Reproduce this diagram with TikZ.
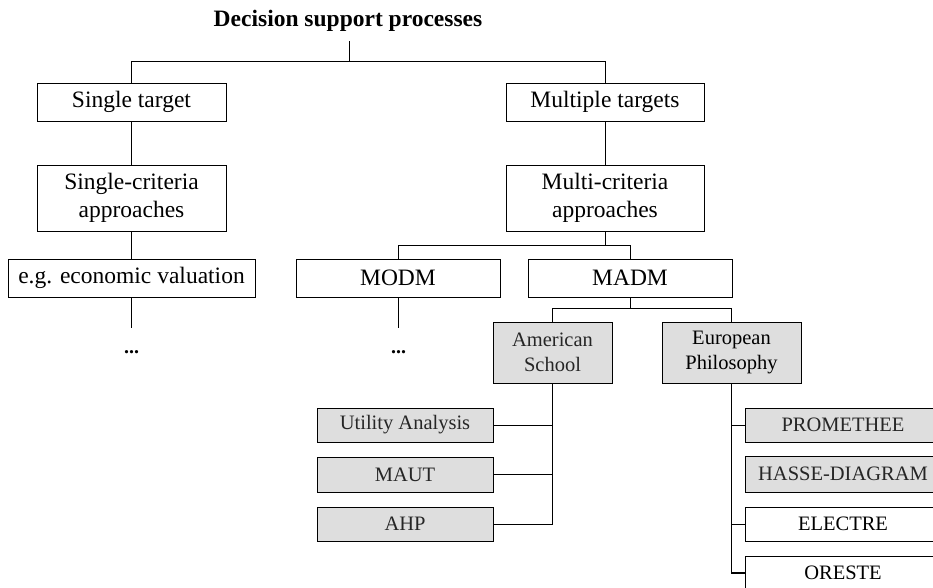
\documentclass[tikz,border=0pt]{standalone}
\usepackage{fontspec}
\setmainfont{Liberation Serif}
\definecolor{boxgray}{HTML}{DEDEDE}
\definecolor{txtgray}{HTML}{262626}
\tikzset{
  mainbox/.style={draw, line width=0.9pt, fill=white, inner sep=0pt, align=center,
    font=\fontsize{23.5}{28}\selectfont},
  graybox/.style={draw, line width=0.9pt, fill=boxgray, inner sep=0pt, align=center,
    text=txtgray, font=\fontsize{20.5}{25}\selectfont},
  whitebox/.style={draw, line width=0.9pt, fill=white, inner sep=0pt, align=center,
    font=\fontsize{20.5}{25}\selectfont},
  conn/.style={line width=0.8pt},
  trunk/.style={line width=1.6pt},
  dotsnode/.style={font=\fontsize{20}{24}\selectfont\bfseries, inner sep=0pt}
}
\begin{document}
\begin{tikzpicture}[x=1pt,y=-1pt]
\useasboundingbox (0,0) rectangle (933,587);
\clip (0,0) rectangle (933,587);
% title
\node[font=\fontsize{23.5}{28}\selectfont\bfseries, inner sep=0pt] (title) at (348,21) {Decision support processes};
\coordinate (t0) at (349,41);
\coordinate (j0) at (349,62);
% level 1
\node[mainbox, minimum width=189pt, minimum height=38pt] (st) at (131.5,102) {Single target};
\node[mainbox, minimum width=198pt, minimum height=38pt] (mt) at (605,102) {Multiple targets};
% level 2
\node[mainbox, minimum width=189pt, minimum height=66pt] (sc) at (131.5,198) {Single-criteria\\approaches};
\node[mainbox, minimum width=198pt, minimum height=66pt] (mc) at (605,198) {Multi-criteria\\approaches};
% level 3
\node[mainbox, minimum width=247pt, minimum height=38pt] (eg) at (131.5,278) {e.g. economic valuation};
\node[mainbox, minimum width=204pt, minimum height=38pt] (modm) at (398,278) {MODM};
\node[mainbox, minimum width=204pt, minimum height=38pt] (madm) at (630,278) {MADM};
\coordinate (j1) at (605,246);
\coordinate (j2) at (630,309);
% dots
\coordinate (d1) at (131.5,328);
\coordinate (d2) at (398,328);
\node[dotsnode] (dots1) at (131.5,352) {...};
\node[dotsnode] (dots2) at (398.5,352) {...};
% schools
\node[graybox, minimum width=119pt, minimum height=61pt] (am) at (552.5,352.5) {American\\School};
\node[graybox, text=black, minimum width=139pt, minimum height=61pt] (eu) at (731.5,352.5) {European\\Philosophy};
% american methods
\node[graybox, minimum width=176pt, minimum height=34pt] (ua) at (405,425) {Utility Analysis};
\node[graybox, minimum width=176pt, minimum height=35pt] (maut) at (405,474.5) {MAUT};
\node[graybox, minimum width=176pt, minimum height=34pt] (ahp) at (405,524) {AHP};
% european methods
\node[graybox, minimum width=196pt, minimum height=34pt] (prom) at (843,425) {PROMETHEE};
\node[graybox, minimum width=196pt, minimum height=36pt] (hasse) at (843,474) {HASSE-DIAGRAM};
\node[whitebox, minimum width=196pt, minimum height=34pt] (elec) at (843,524) {ELECTRE};
\node[whitebox, minimum width=196pt, minimum height=34pt] (ores) at (843,573) {ORESTE};
% connectors
\draw[conn] (t0) -- (j0);
\draw[conn] (st.north) -- ++(0,-21) -| (mt.north);
\draw[conn] (st.south) -- (sc.north);
\draw[conn] (mt.south) -- (mc.north);
\draw[conn] (sc.south) -- (eg.north);
\draw[conn] (mc.south) -- (j1);
\draw[conn] (modm.north) -- ++(0,-13) -| (madm.north);
\draw[conn] (eg.south) -- (d1);
\draw[conn] (modm.south) -- (d2);
\draw[conn] (madm.south) -- (j2);
\draw[conn] (am.north) -- ++(0,-13) -| (eu.north);
\draw[conn] (am.south) |- (ahp.east);
\draw[conn] (ua.east) -- (ua.east -| am.south);
\draw[conn] (maut.east) -- (maut.east -| am.south);
\draw[trunk] (eu.south) |- (ores.west);
\draw[conn] (prom.west) -- (prom.west -| eu.south);
\draw[conn] (elec.west) -- (elec.west -| eu.south);
\end{tikzpicture}
\end{document}
